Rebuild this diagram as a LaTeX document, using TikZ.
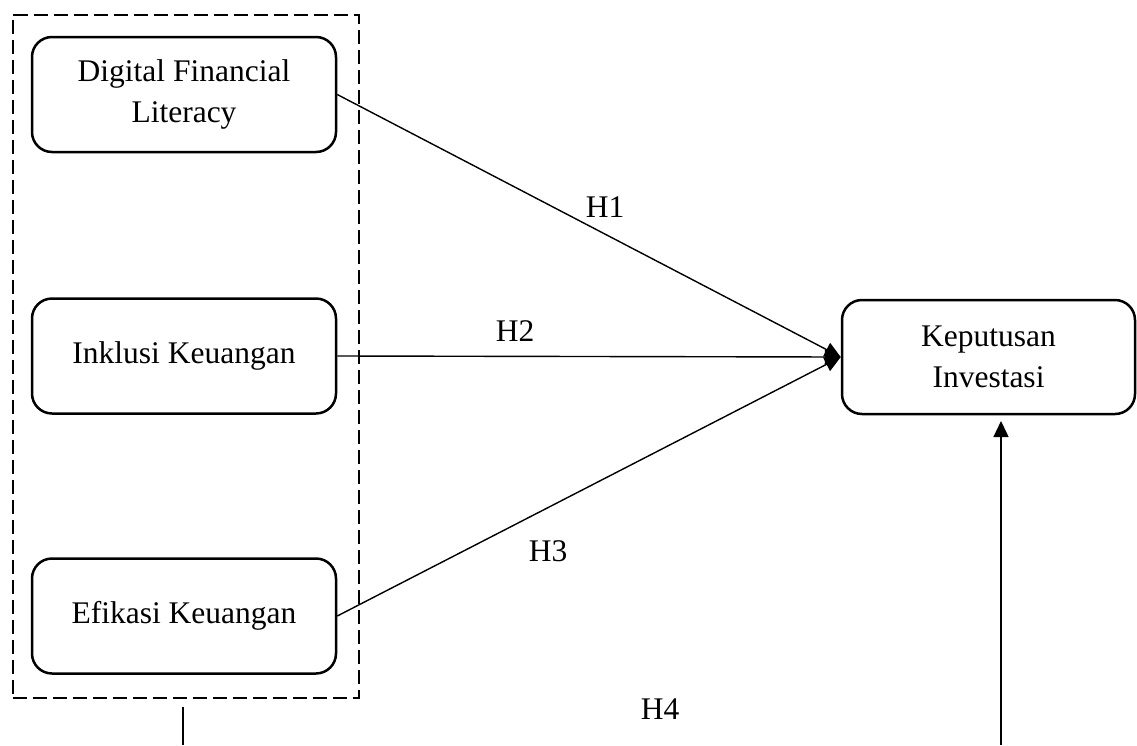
\documentclass[tikz,border=0pt]{standalone}
\usepackage{fontspec}
\setmainfont{Liberation Serif}
\usetikzlibrary{arrows.meta}
\begin{document}
\begin{tikzpicture}[x=1pt,y=-1pt,
  varbox/.style={draw,line width=2.5pt,rounded corners=20pt,minimum width=304pt,minimum height=115pt,align=center,inner sep=0pt,font=\fontsize{31.5}{41}\selectfont},
  lbl/.style={font=\fontsize{31.5}{36}\selectfont,inner sep=0pt},
  conn/.style={line width=1.4pt,-{Triangle[length=16pt,width=15pt]}}]
\useasboundingbox (0,0) rectangle (1137,745);
\node[varbox] (dfl) at (184,94.5) {Digital Financial\\Literacy};
\node[varbox] (ik) at (184,356) {Inklusi Keuangan};
\node[varbox] (ek) at (184,616) {Efikasi Keuangan};
\node[varbox,minimum width=293pt,minimum height=114pt] (ki) at (988.5,357) {Keputusan\\Investasi};
\node[draw,line width=2pt,dash pattern=on 14pt off 6pt,minimum width=346pt,minimum height=683pt,inner sep=0pt] (grp) at (185.5,356) {};
\coordinate (tgt) at (ki.west);
\draw[conn] (dfl.east) -- (tgt);
\draw[conn] (ik.east) -- (tgt);
\draw[conn] (ek.east) -- (tgt);
\coordinate (gb) at (183,707);
\coordinate (ge) at (183,745);
\draw[line width=1.4pt] (gb) -- (ge);
\coordinate (kb) at (1001,745);
\draw[conn] (kb) -- (1001,421);
\node[lbl] (h1) at (605,207) {H1};
\node[lbl] (h2) at (515,331) {H2};
\node[lbl] (h3) at (548,551) {H3};
\node[lbl] (h4) at (660,709) {H4};
\end{tikzpicture}
\end{document}
